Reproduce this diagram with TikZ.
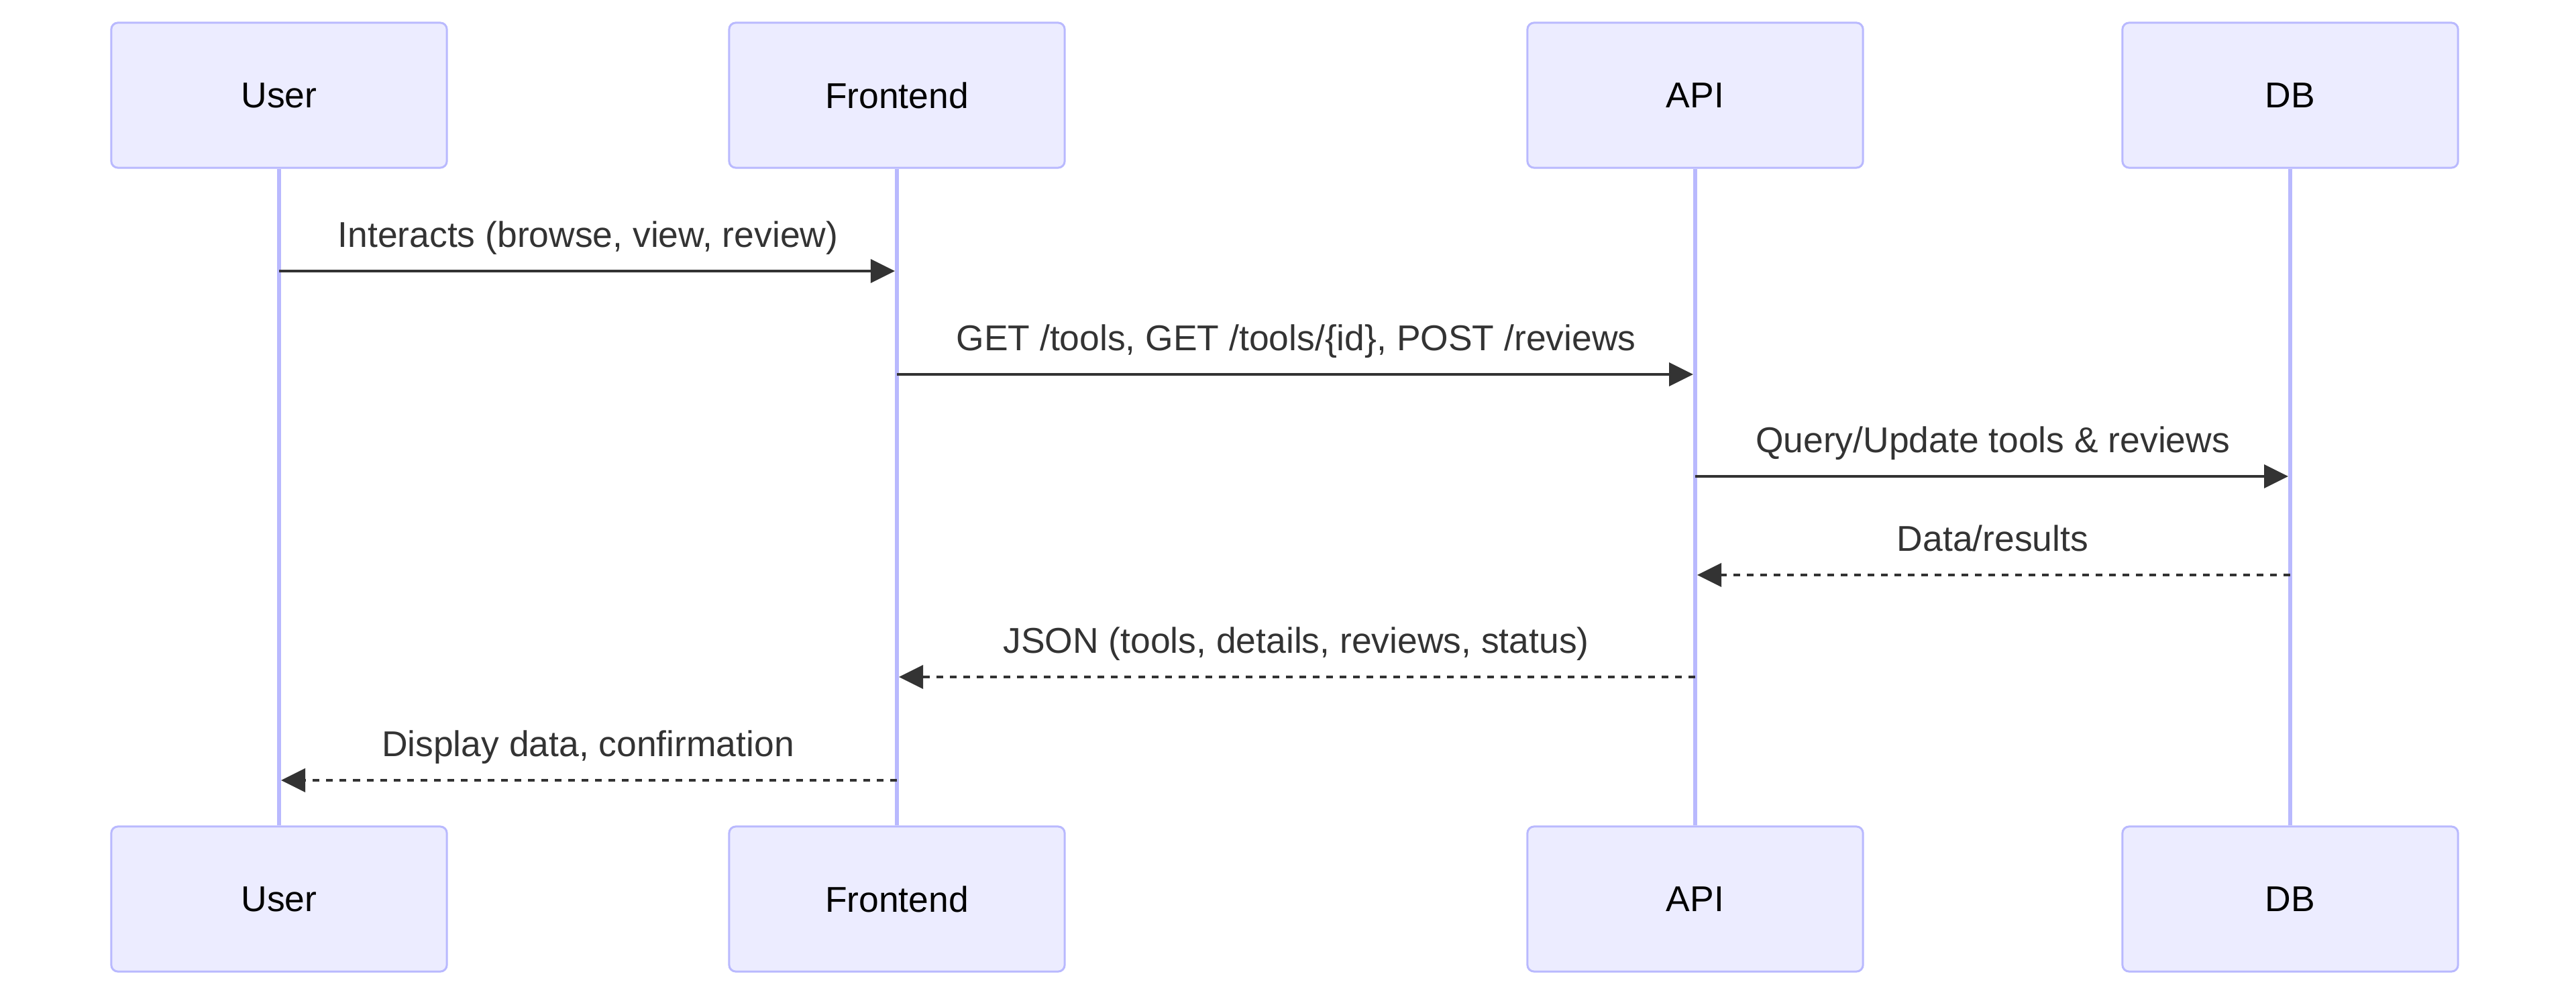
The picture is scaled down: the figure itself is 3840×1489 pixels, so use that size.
\documentclass[tikz,border=0pt]{standalone}
\usepackage{fontspec}
\setmainfont{Liberation Sans}
\usetikzlibrary{arrows.meta}
\definecolor{actorfill}{HTML}{ECECFF}
\definecolor{actorline}{HTML}{B9B9FE}
\definecolor{msgcol}{HTML}{333333}

\begin{document}
\begin{tikzpicture}[x = .01cm, y = -.01cm,
    actor/.style = {rectangle, rounded corners = 2.8pt, draw = actorline, line width = .85pt,
        fill = actorfill, minimum width = 5cm, minimum height = 2.16cm, inner sep = 0pt,
        font = \fontsize{15.2}{18}\selectfont, text = black},
    life/.style = {actorline, line width = 1.7pt},
    msg/.style = {msgcol, line width = 1pt, -{Triangle[length = .36cm, width = .35cm]}, shorten > = .03cm},
    reply/.style = {msg, dash pattern = on .1cm off .1cm},
    lbl/.style = {midway, anchor = base, yshift = 10pt, inner sep = 0pt,
        font = \fontsize{15.2}{18}\selectfont, text = msgcol}]
\useasboundingbox (0,0) rectangle (3840,1489);
\draw (416,142) node[actor](ut){User}
    (1337,142) node[actor](ft){Frontend}
    (2527,142) node[actor](at){API}
    (3414,142) node[actor](dt){DB}
    (416,1340) node[actor](ub){User}
    (1337,1340) node[actor](fb){Frontend}
    (2527,1340) node[actor](ab){API}
    (3414,1340) node[actor](db){DB};
\foreach \a in {u,f,a,d}
    \draw[life] (\a t.south) -- (\a b.north);
\foreach \n/\y in {1/404,2/558,3/710,4/857,5/1009,6/1163}
    \foreach \a in {u,f,a,d}
        \coordinate (\a\n) at (\a t |- 0,\y);
\draw[msg] (u1) -- (f1) node[lbl] {Interacts (browse, view, review)};
\draw[msg] (f2) -- (a2) node[lbl] {GET /tools, GET /tools/\{id\}, POST /reviews};
\draw[msg] (a3) -- (d3) node[lbl] {Query/Update tools \& reviews};
\draw[reply] (d4) -- (a4) node[lbl] {Data/results};
\draw[reply] (a5) -- (f5) node[lbl] {JSON (tools, details, reviews, status)};
\draw[reply] (f6) -- (u6) node[lbl] {Display data, confirmation};
\end{tikzpicture}
\end{document}
